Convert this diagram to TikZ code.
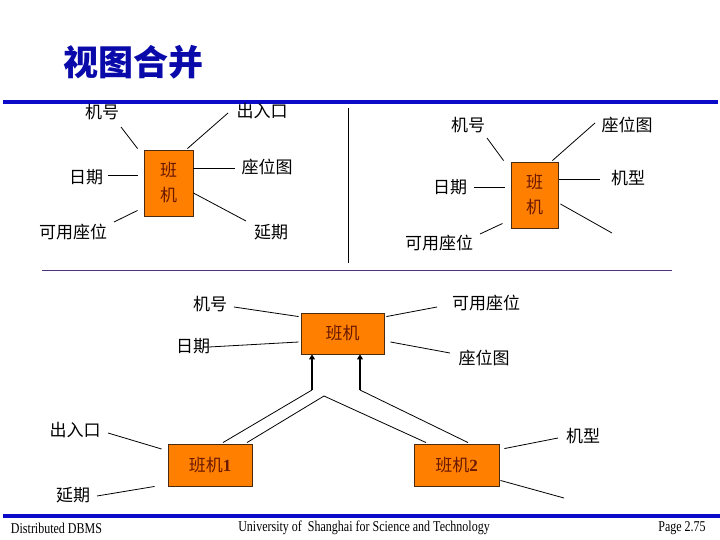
\documentclass[tikz,border=0pt]{standalone}
\usepackage{fontspec}
\usepackage{tikz}
\usetikzlibrary{arrows.meta,positioning,calc}
\newfontfamily\cjk{Noto Sans CJK SC}
\newfontfamily\digfont{Liberation Serif}
\newfontfamily\footfont[FakeStretch=0.8]{Liberation Serif}
\definecolor{flightor}{HTML}{FF8000}
\definecolor{boxtxt}{HTML}{6A1800}
\definecolor{boxedge}{HTML}{4A2A10}
\definecolor{bandblue}{HTML}{0A0AC8}
\definecolor{titleblue}{HTML}{0A0AAA}
\definecolor{splitline}{HTML}{503278}
\tikzset{
  entbox/.style={rectangle, draw=boxedge, line width=0.9pt, fill=flightor, text=boxtxt,
                 align=center, inner sep=0pt, font=\cjk\fontsize{17}{25}\selectfont},
  attr/.style={inner sep=1pt, font=\cjk\fontsize{17}{20}\selectfont},
  lnk/.style={line width=0.8pt, draw=black},
  up/.style={-{Triangle[length=5pt,width=6pt]}, line width=2.2pt, draw=black},
  foot/.style={inner sep=0pt, font=\footfont\fontsize{15}{17}\selectfont},
}

\begin{document}
\begin{tikzpicture}[x=1pt,y=-1pt]
    \useasboundingbox (0,0) rectangle (720,540);
    % title and bands
    \node[inner sep=0pt, text=titleblue, font=\cjk\bfseries\fontsize{35}{40}\selectfont] (ttl) at (133,62) {视图合并};
    \fill[bandblue] (3,100) rectangle (718,104);
    \fill[bandblue] (3,514) rectangle (720,518);
    \draw[line width=0.8pt] (348,108) -- (348,263);
    \draw[splitline, line width=1pt] (42,270) -- (672,270);

    % view 1
    \node[entbox, minimum width=49pt, minimum height=66pt] (bjA) at (168.5,183) {班\\机};
    \node[attr] (hA)  at (102,112) {机号};
    \node[attr] (crA) at (262,111) {出入口};
    \node[attr] (rqA) at (86,177)  {日期};
    \node[attr] (ztA) at (267,167) {座位图};
    \node[attr] (kyA) at (73,232)  {可用座位};
    \node[attr] (yqA) at (271,232) {延期};
    \coordinate (eA1) at (121,127);
    \coordinate (eA2) at (228,113);
    \coordinate (eA3) at (108,175);
    \coordinate (eA4) at (235,168);
    \coordinate (eA5) at (114,222);
    \coordinate (eA6) at (246,221);
    \draw[lnk] (eA1) -- ([shift={(-6pt,1pt)}]bjA.north west);
    \draw[lnk] (eA2) -- ([shift={(-6pt,1pt)}]bjA.north east);
    \draw[lnk] (eA3) -- ([shift={(-6pt,8pt)}]bjA.west);
    \draw[lnk] ([yshift=15pt]bjA.east) -- (eA4);
    \draw[lnk] (eA5) -- ([shift={(-6pt,6pt)}]bjA.south west);
    \draw[lnk] ([yshift=-10pt]bjA.east) -- (eA6);

    % view 2
    \node[entbox, minimum width=47pt, minimum height=66pt] (bjB) at (534.5,195) {班\\机};
    \node[attr] (hB)  at (468,125) {机号};
    \node[attr] (ztB) at (627,125) {座位图};
    \node[attr] (rqB) at (450,187) {日期};
    \node[attr] (jxB) at (628,178) {机型};
    \node[attr] (kyB) at (439,243) {可用座位};
    \coordinate (eB1) at (487,138);
    \coordinate (eB2) at (595,123);
    \coordinate (eB3) at (474,187);
    \coordinate (eB4) at (600,179);
    \coordinate (eB5) at (480,234);
    \coordinate (eB6) at (612,233);
    \draw[lnk] (eB1) -- ([shift={(-7pt,1pt)}]bjB.north west);
    \draw[lnk] (eB2) -- ([shift={(-6pt,1pt)}]bjB.north east);
    \draw[lnk] (eB3) -- ([shift={(-6pt,8pt)}]bjB.west);
    \draw[lnk] ([shift={(1pt,16pt)}]bjB.east) -- (eB4);
    \draw[lnk] (eB5) -- ([shift={(-8pt,5pt)}]bjB.south west);
    \draw[lnk] ([shift={(2pt,-9pt)}]bjB.east) -- (eB6);

    % merged view
    \node[entbox, minimum width=83pt, minimum height=41pt] (bjC) at (342.5,333.5) {班机};
    \node[entbox, minimum width=84pt, minimum height=42pt] (bjOne) at (210,465) {班机{\digfont\bfseries 1}};
    \node[entbox, minimum width=85pt, minimum height=42pt] (bjTwo) at (456.5,465) {班机{\digfont\bfseries 2}};
    \node[attr] (hC)  at (210,304) {机号};
    \node[attr] (rqC) at (193,346) {日期};
    \node[attr] (kyC) at (486,303) {可用座位};
    \node[attr] (ztC) at (484,358) {座位图};
    \node[attr] (crC) at (75,430)  {出入口};
    \node[attr] (yqC) at (73,495)  {延期};
    \node[attr] (jxC) at (583,436) {机型};
    \coordinate (eC1) at (234,307);
    \coordinate (eC2) at (209,347);
    \coordinate (eC3) at (437,307);
    \coordinate (eC4) at (450,353);
    \coordinate (eC5) at (108,433);
    \coordinate (eC6) at (97,496);
    \coordinate (eC7) at (558,438);
    \coordinate (eC8) at (564,498);
    \draw[lnk] (eC1) -- ([shift={(-2pt,-4pt)}]bjC.north west);
    \draw[lnk] (eC2) -- ([shift={(-2pt,-8.5pt)}]bjC.west);
    \draw[lnk] ([shift={(2pt,-4pt)}]bjC.north east) -- (eC3);
    \draw[lnk] ([shift={(6pt,-8.5pt)}]bjC.east) -- (eC4);
    \draw[lnk] (eC5) -- ([shift={(-6pt,16pt)}]bjOne.west);
    \draw[lnk] (eC6) -- ([xshift=-13pt]bjOne.south west);
    \draw[lnk] ([shift={(5pt,-5pt)}]bjTwo.north east) -- (eC7);
    \draw[lnk] ([shift={(1pt,6pt)}]bjTwo.south east) -- (eC8);

    % merge arrows
    \coordinate (kL) at (312,390);
    \coordinate (kR) at (360,390);
    \coordinate (pk) at (324,396);
    \draw[lnk] ([shift={(13pt,1pt)}]bjOne.north) -- (kL);
    \draw[lnk] ([shift={(11.5pt,1pt)}]bjTwo.north) -- (kR);
    \draw[lnk] ([shift={(37pt,1pt)}]bjOne.north) -- (pk) -- ([shift={(-30.5pt,1pt)}]bjTwo.north);
    \draw[up] (kL) -- (kL |- bjC.south);
    \draw[up] (kR) -- (kR |- bjC.south);

    % footer
    \node[foot] (ftl) at (56.5,528) {Distributed DBMS};
    \node[foot] (ftm) at (364,528) {University of\ \ Shanghai for Science and Technology};
    \node[foot] (ftr) at (682,528) {Page 2.75};
\end{tikzpicture}
\end{document}
